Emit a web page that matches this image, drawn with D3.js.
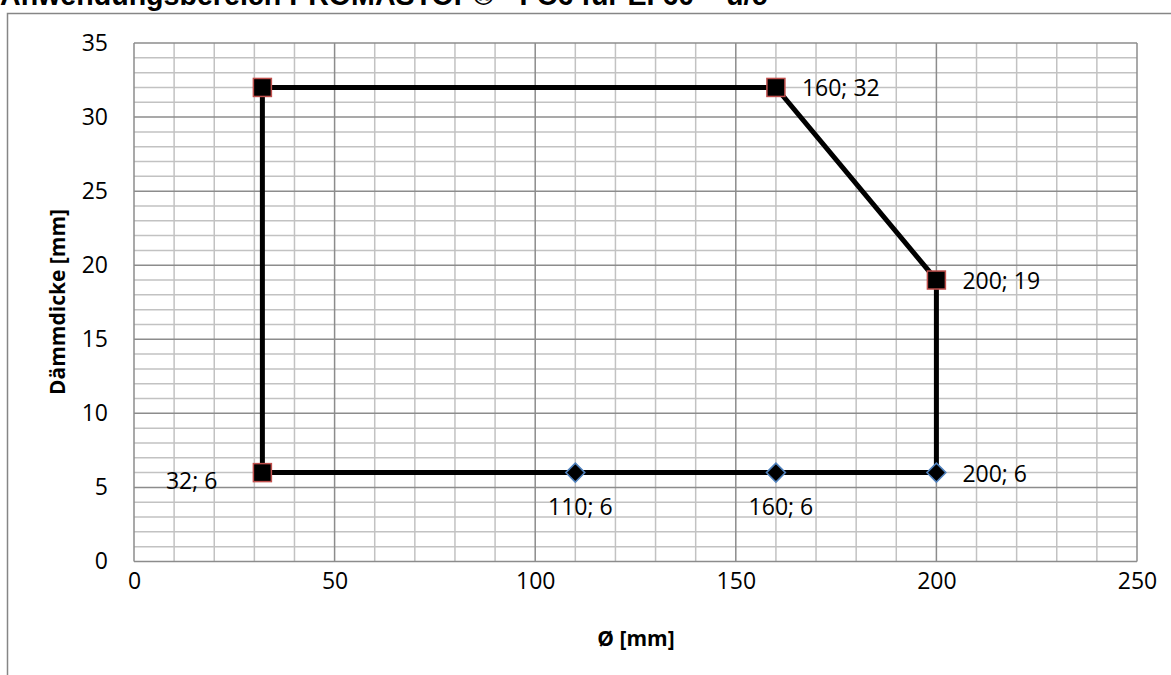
<!DOCTYPE html>
<html>
<head>
<meta charset="utf-8">
<script src="https://cdn.jsdelivr.net/npm/d3@7"></script>
<style>
  body { margin: 0; background: #fff; }
  text { font-family: "Open Sans", Lato, sans-serif; }
</style>
</head>
<body>
<script>
var w = 1171, h = 675;

// data
var squarePoints = [[32, 6], [32, 32], [160, 32], [200, 19]];
var diamondPoints = [[110, 6], [160, 6], [200, 6]];
var outline = [[32, 6], [32, 32], [160, 32], [200, 19], [200, 6], [160, 6], [110, 6], [32, 6]];
var labels = [
  {p: [160, 32], pos: "right"},
  {p: [200, 19], pos: "right"},
  {p: [32, 6], pos: "left"},
  {p: [110, 6], pos: "below"},
  {p: [160, 6], pos: "below"},
  {p: [200, 6], pos: "right"}
];
var xTicks = [0, 50, 100, 150, 200, 250];
var yTicks = [0, 5, 10, 15, 20, 25, 30, 35];

var x = d3.scaleLinear().domain([0, 250]).range([134, 1137]);
var y = d3.scaleLinear().domain([0, 35]).range([561.5, 43]);

var svg = d3.select("body").append("svg")
  .attr("width", w).attr("height", h);

// chart frame (cut off by the window)
svg.append("rect")
  .attr("x", 7.5).attr("y", 13.5)
  .attr("width", 1200).attr("height", 700)
  .attr("fill", "none").attr("stroke", "#868686").attr("stroke-width", 1.5);

// title
svg.append("text")
  .attr("x", 0).attr("y", 4.5)
  .style("font-family", "'Liberation Sans', Arial, sans-serif")
  .attr("font-weight", "bold").attr("font-size", 28.6)
  .text("Anwendungsbereich PROMASTOP® - FC6 für EI 60 – u/c");

// minor grid
svg.append("g").selectAll("line").data(d3.range(0, 251, 10).filter(function (d) { return d % 50 != 0; }))
  .enter().append("line")
  .attr("x1", function (d) { return x(d); }).attr("x2", function (d) { return x(d); })
  .attr("y1", y(0)).attr("y2", y(35))
  .attr("stroke", "#c2c2c2").attr("stroke-width", 1.5);
svg.append("g").selectAll("line").data(d3.range(0, 36, 1).filter(function (d) { return d % 5 != 0; }))
  .enter().append("line")
  .attr("y1", function (d) { return y(d); }).attr("y2", function (d) { return y(d); })
  .attr("x1", x(0)).attr("x2", x(250))
  .attr("stroke", "#c2c2c2").attr("stroke-width", 1.5);

// major grid
svg.append("g").selectAll("line").data(xTicks)
  .enter().append("line")
  .attr("x1", function (d) { return x(d); }).attr("x2", function (d) { return x(d); })
  .attr("y1", y(0)).attr("y2", y(35))
  .attr("stroke", "#8c8c8c").attr("stroke-width", 1.5);
svg.append("g").selectAll("line").data(yTicks)
  .enter().append("line")
  .attr("y1", function (d) { return y(d); }).attr("y2", function (d) { return y(d); })
  .attr("x1", x(0)).attr("x2", x(250))
  .attr("stroke", "#8c8c8c").attr("stroke-width", 1.5);

// axes labels
var xAxis = svg.append("g")
  .attr("transform", "translate(0," + y(0) + ")")
  .call(d3.axisBottom(x).tickValues(xTicks).tickSize(0).tickPadding(11));
var yAxis = svg.append("g")
  .attr("transform", "translate(" + x(0) + ",0)")
  .call(d3.axisLeft(y).tickValues(yTicks).tickSize(0).tickPadding(26));
[xAxis, yAxis].forEach(function (a) {
  a.select(".domain").remove();
  a.selectAll("text").attr("font-size", 23).attr("fill", "#000")
    .style("font-family", "'Open Sans', Lato, sans-serif");
});

svg.append("text")
  .attr("x", 636).attr("y", 646)
  .attr("text-anchor", "middle").attr("font-weight", "bold").attr("font-size", 21)
  .text("Ø [mm]");
svg.append("text")
  .attr("transform", "translate(65,302) rotate(-90)")
  .attr("text-anchor", "middle").attr("font-weight", "bold").attr("font-size", 21)
  .text("Dämmdicke [mm]");

// outline
var line = d3.line()
  .x(function (d) { return x(d[0]); })
  .y(function (d) { return y(d[1]); });
svg.append("path")
  .datum(outline)
  .attr("d", line)
  .attr("fill", "none").attr("stroke", "#000").attr("stroke-width", 5)
  .attr("stroke-linejoin", "miter");

// markers
svg.append("g").selectAll("rect").data(squarePoints)
  .enter().append("rect")
  .attr("x", function (d) { return x(d[0]) - 9; })
  .attr("y", function (d) { return y(d[1]) - 9; })
  .attr("width", 18).attr("height", 18)
  .attr("fill", "#000").attr("stroke", "#c0504d").attr("stroke-width", 1.5);
svg.append("g").selectAll("path").data(diamondPoints)
  .enter().append("path")
  .attr("transform", function (d) { return "translate(" + x(d[0]) + "," + y(d[1]) + ")"; })
  .attr("d", "M0,-9.5L9.5,0L0,9.5L-9.5,0Z")
  .attr("fill", "#000").attr("stroke", "#4f81bd").attr("stroke-width", 1.5);

// point labels
svg.append("g").selectAll("text").data(labels)
  .enter().append("text")
  .attr("font-size", 23)
  .attr("x", function (d) {
    if (d.pos == "right") return x(d.p[0]) + 26;
    if (d.pos == "left") return x(d.p[0]) - 45;
    return x(d.p[0]) + 5;
  })
  .attr("y", function (d) {
    if (d.pos == "below") return y(d.p[1]) + 42;
    if (d.pos == "left") return y(d.p[1]) + 16;
    return y(d.p[1]) + 9;
  })
  .attr("text-anchor", function (d) {
    if (d.pos == "right") return "start";
    if (d.pos == "left") return "end";
    return "middle";
  })
  .text(function (d) { return d.p[0] + "; " + d.p[1]; });
</script>
</body>
</html>
